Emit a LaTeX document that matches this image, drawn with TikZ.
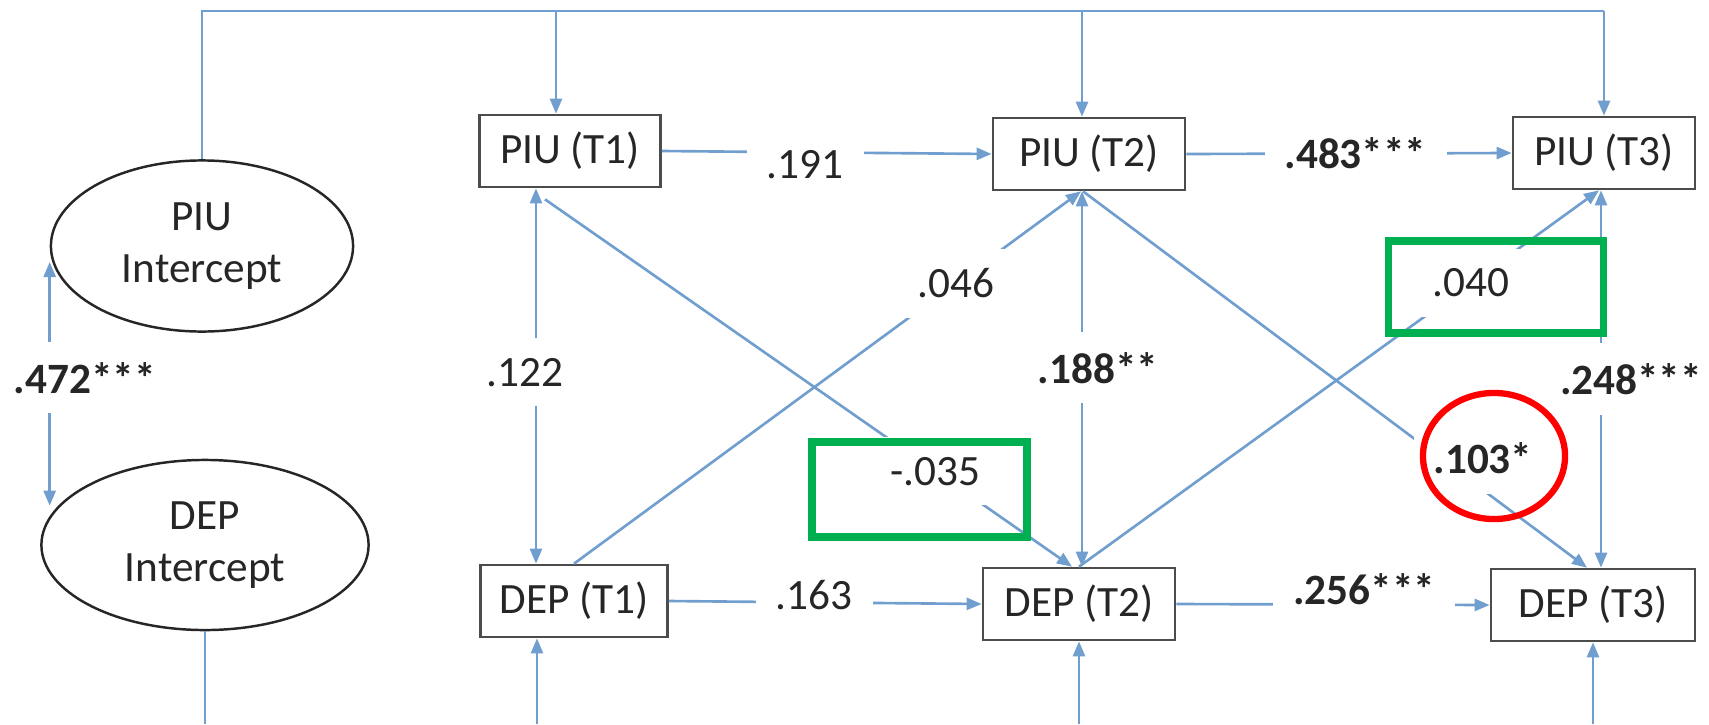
\documentclass[tikz,border=0pt]{standalone}
\usepackage{fontspec}
\setmainfont{Carlito}
\usetikzlibrary{arrows.meta,shapes.geometric}

\definecolor{pathblue}{RGB}{112,158,206}
\definecolor{markgreen}{RGB}{0,176,80}
\definecolor{markred}{RGB}{255,0,0}

\tikzset{
	latent/.style={ellipse,draw=black!85,line width=0.7pt,text=black!85,align=center,inner sep=0pt},
	var/.style={rectangle,draw=black!70,line width=0.75pt,text=black!85,minimum height=0.72cm,inner sep=0pt},
	link/.style={pathblue,line width=0.75pt},
	lbl/.style={fill=white,inner sep=0.2cm,text=black!85},
	okbox/.style={draw=markgreen,line width=2pt},
	flag/.style={draw=markred,line width=1.8pt}
}

\begin{document}
\begin{tikzpicture}[x=0.01cm,y=-0.01cm,>={Triangle[length=1.5mm,width=1.2mm]},font=\fontsize{12.3}{14.6}\selectfont]
	\useasboundingbox (0,0) rectangle (1709,724);
	% the two intercepts
	\node[latent,minimum width=3.02cm,minimum height=1.71cm] (piuI) at (202,246) {PIU\\Intercept};
	\node[latent,minimum width=3.27cm,minimum height=1.70cm] (depI) at (205,545) {DEP\\Intercept};
	% the three waves
	\node[var,minimum width=1.81cm] (piu1) at (570,151) {PIU (T1)};
	\node[var,minimum width=1.92cm] (piu2) at (1089,154) {PIU (T2)};
	\node[var,minimum width=1.82cm] (piu3) at (1604,153) {PIU (T3)};
	\node[var,minimum width=1.87cm] (dep1) at (574,601) {DEP (T1)};
	\node[var,minimum width=1.92cm] (dep2) at (1079,604) {DEP (T2)};
	\node[var,minimum width=2.04cm] (dep3) at (1593,605) {DEP (T3)};
	% intercept loadings, running out of the picture at top and bottom
	\coordinate (topline) at (202,11);
	\coordinate (botline) at (205,724);
	\draw[link] (piuI.north) -- (topline) -- (topline -| piu3.north);
	\draw[link,->] ([xshift=-0.14cm]piu1.north |- topline) -- ([xshift=-0.14cm]piu1.north);
	\draw[link,->] ([xshift=-0.07cm]piu2.north |- topline) -- ([xshift=-0.07cm]piu2.north);
	\draw[link,->] (piu3.north |- topline) -- (piu3.north);
	\draw[link] (depI.south) -- (botline);
	\draw[link,->] ([xshift=-0.37cm]dep1.south |- botline) -- ([xshift=-0.37cm]dep1.south);
	\draw[link,->] (dep2.south |- botline) -- (dep2.south);
	\draw[link,->] (dep3.south |- botline) -- (dep3.south);
	% covariances
	\draw[link,<->] ([yshift=-0.16cm]piuI.west) -- node[lbl,pos=0.475,xshift=0.35cm] {\textbf{.472***}} (piuI.west |- depI.165);
	\draw[link,<->] ([xshift=-0.34cm]piu1.south) -- node[lbl,pos=0.49,xshift=-0.11cm] {.122} ([xshift=-0.34cm]piu1.south |- dep1.north);
	\draw[link,<->] ([xshift=-0.07cm]piu2.south) -- node[lbl,pos=0.47,xshift=0.16cm] {\textbf{.188**}} ([xshift=-0.07cm]piu2.south |- dep2.north);
	\draw[link,<->] ([xshift=-0.03cm]piu3.south) -- node[lbl,pos=0.5,xshift=0.3cm] {\textbf{.248***}} ([xshift=-0.03cm]piu3.south |- dep3.north);
	% autoregressive paths
	\draw[link,->] (piu1.east) -- node[lbl,pos=0.435,yshift=-0.12cm] {.191} (piu2.west);
	\draw[link,->] (piu2.east) -- node[lbl,pos=0.52] {\textbf{.483***}} (piu3.west);
	\draw[link,->] (dep1.east) -- node[lbl,pos=0.465,yshift=0.07cm] {.163} (dep2.west);
	\draw[link,->] (dep2.east) -- node[lbl,pos=0.6,yshift=0.15cm] {\textbf{.256***}} (dep3.west);
	% cross-lagged paths
	\draw[link,->] ([xshift=-0.25cm,yshift=-0.11cm]piu1.south) -- node[lbl,pos=0.74] {-.035} ([xshift=-0.07cm]dep2.north);
	\draw[link,->] (dep1.north) -- node[lbl,pos=0.753] {.046} ([xshift=-0.08cm]piu2.south);
	\draw[link,->] ([xshift=-0.06cm]piu2.south) -- node[lbl,pos=0.73,xshift=0.32cm,yshift=0.08cm] {\textbf{.103*}} ([xshift=-0.06cm]dep3.north);
	\draw[link,->] (dep2.north) -- node[lbl,pos=0.754] {.040} ([xshift=-0.05cm]piu3.south);
	% highlights
	\draw[okbox] (812,442) rectangle (1027,537);
	\draw[okbox] (1388,241) rectangle (1603,333);
	\draw[flag] (1494,456) ellipse [x radius=0.71cm, y radius=0.63cm];
\end{tikzpicture}
\end{document}
